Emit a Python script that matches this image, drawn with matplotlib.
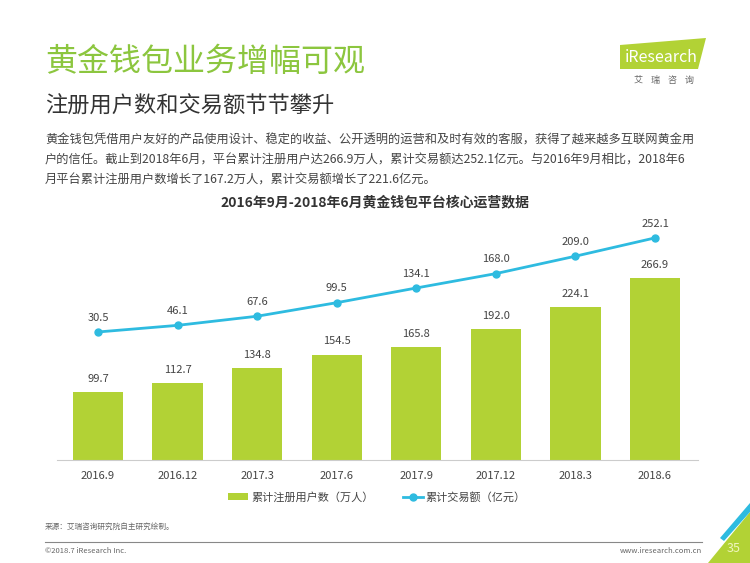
import matplotlib
matplotlib.use("Agg")
import matplotlib.pyplot as plt
from matplotlib.patches import Polygon
from matplotlib.lines import Line2D
from matplotlib.patches import Patch

plt.rcParams['font.family'] = ['Noto Sans CJK SC', 'DejaVu Sans']

categories = ["2016.9", "2016.12", "2017.3", "2017.6", "2017.9", "2017.12", "2018.3", "2018.6"]
users = [99.7, 112.7, 134.8, 154.5, 165.8, 192.0, 224.1, 266.9]
volume = [30.5, 46.1, 67.6, 99.5, 134.1, 168.0, 209.0, 252.1]

bar_color = "#b2d235"
line_color = "#2ebbe0"
green_title = "#8cc63f"

fig = plt.figure(figsize=(7.5, 5.63), dpi=100)

# Header texts
fig.text(45/750, 1-62/563, "黄金钱包业务增幅可观", fontsize=23, color=green_title, va="center", ha="left")
fig.text(45/750, 1-106/563, "注册用户数和交易额节节攀升", fontsize=16, color="#333333", va="center", ha="left")
body = ["黄金钱包凭借用户友好的产品使用设计、稳定的收益、公开透明的运营和及时有效的客服，获得了越来越多互联网黄金用",
        "户的信任。截止到2018年6月，平台累计注册用户达266.9万人，累计交易额达252.1亿元。与2016年9月相比，2018年6",
        "月平台累计注册用户数增长了167.2万人，累计交易额增长了221.6亿元。"]
for i, line in enumerate(body):
    fig.text(45/750, 1-(140 + i*20)/563, line, fontsize=8.8, color="#444444", va="center", ha="left")

fig.text(375/750, 1-202/563, "2016年9月-2018年6月黄金钱包平台核心运营数据", fontsize=10, fontweight="bold",
         color="#333333", va="center", ha="center")

# Logo
logo = Polygon([[620/750, 1-45/563], [706/750, 1-38/563], [698/750, 1-69/563], [620/750, 1-69/563]],
               closed=True, transform=fig.transFigure, facecolor="#b2d235", edgecolor="none")
fig.patches.append(logo)
fig.text(661/750, 1-57/563, "iResearch", fontsize=11.5, color="white", va="center", ha="center")
fig.text(664/750, 1-80/563, "艾    瑞    咨    询", fontsize=6.5, color="#666666", va="center", ha="center")

# Chart
ax = fig.add_axes([57/750, 1-460/563, 641/750, 245/563])
x = list(range(len(categories)))
ax.bar(x, users, width=0.63, color=bar_color, zorder=2)
ax.set_ylim(0, 359)
ax.set_xlim(-0.515, len(categories) - 1 + 0.54)
for xi, v in zip(x, users):
    ax.text(xi, v + 12, f"{v:.1f}", ha="center", va="bottom", fontsize=8, color="#444444")
ax.set_xticks(x)
ax.set_xticklabels(categories, fontsize=8, color="#444444")
ax.tick_params(axis="x", length=0, pad=8)
ax.set_yticks([])
for s in ["top", "right", "left"]:
    ax.spines[s].set_visible(False)
ax.spines["bottom"].set_color("#cccccc")

ax2 = ax.twinx()
ax2.plot(x, volume, color=line_color, linewidth=2, marker="o", markersize=5, zorder=3)
ax2.set_ylim(-271, 306)
for xi, v in zip(x, volume):
    ax2.text(xi, v + 22, f"{v:.1f}", ha="center", va="bottom", fontsize=8, color="#444444")
ax2.set_yticks([])
for s in ["top", "right", "left", "bottom"]:
    ax2.spines[s].set_visible(False)

handles = [Patch(facecolor=bar_color, edgecolor="none"),
           Line2D([0], [0], color=line_color, linewidth=2, marker="o", markersize=5)]
fig.legend(handles, ["累计注册用户数（万人）", "累计交易额（亿元）"], loc="center",
           bbox_to_anchor=(377/750, 1-497/563), ncol=2, frameon=False, fontsize=8,
           handlelength=1.8, handletextpad=0.3, columnspacing=2.6, labelcolor="#444444")

# Footer
fig.text(45/750, 1-527/563, "来源：艾瑞咨询研究院自主研究绘制。", fontsize=5.5, color="#666666", va="center", ha="left")
fig.add_artist(Line2D([45/750, 702/750], [1-542/563, 1-542/563], color="#888888", linewidth=0.8,
                      transform=fig.transFigure))
fig.text(45/750, 1-551/563, "©2018.7 iResearch Inc.", fontsize=5.5, color="#666666", va="center", ha="left")
fig.text(702/750, 1-551/563, "www.iresearch.com.cn", fontsize=5.5, color="#666666", va="center", ha="right")
tri = Polygon([[750/750, 1-512/563], [750/750, 1-563/563], [708/750, 1-563/563]],
              closed=True, transform=fig.transFigure, facecolor="#b2d235", edgecolor="none")
fig.patches.append(tri)
tri2 = Polygon([[750/750, 1-503/563], [750/750, 1-512/563], [724/750, 1-541/563], [720/750, 1-538/563]],
               closed=True, transform=fig.transFigure, facecolor="#2ebbe0", edgecolor="none")
fig.patches.append(tri2)
fig.text(734/750, 1-549/563, "35", fontsize=9, color="#f0f5c0", va="center", ha="center")

fig.savefig("out.png", dpi=100)
